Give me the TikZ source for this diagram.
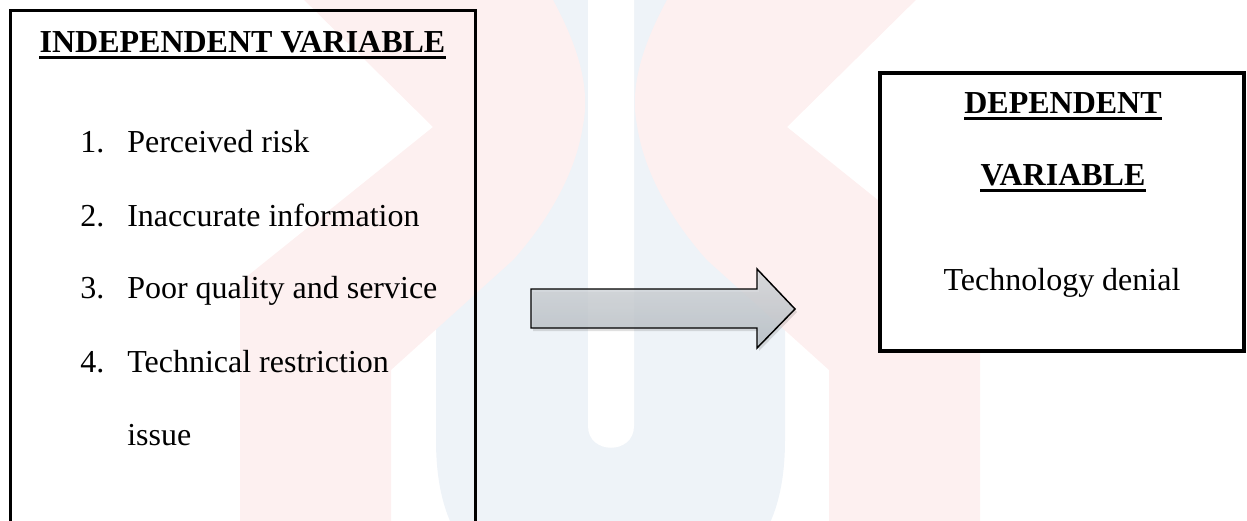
\documentclass[tikz,border=0pt]{standalone}
\usepackage{fontspec}
\setmainfont{Liberation Serif}
\definecolor{wmpink}{RGB}{253,240,240}
\definecolor{wmblue}{RGB}{238,243,248}
\definecolor{arrtop}{RGB}{214,217,220}
\definecolor{arrbot}{RGB}{182,190,197}
\begin{document}
\begin{tikzpicture}[x=0.75pt,y=-0.75pt,
  txt/.style={font=\fontsize{24}{28}\selectfont, inner sep=0pt, anchor=base west},
  ctxt/.style={font=\fontsize{24}{28}\selectfont, inner sep=0pt, anchor=base},
  hdr/.style={font=\fontsize{24}{28}\selectfont\bfseries, inner sep=0pt, anchor=base},
  uline/.style={line width=2.2pt},
  openbox/.style={draw=black, line width=2.25pt, inner sep=0pt, outer sep=0pt},
  depbox/.style={draw=black, fill=white, line width=3pt, inner sep=0pt, outer sep=0pt},
  blockarrow/.style={draw=black, line width=1.1pt, line join=miter, top color=arrtop, bottom color=arrbot, fill opacity=0.8},
  arrshadow/.style={fill=black, opacity=0.12}]
\useasboundingbox (0,0) rectangle (1247,521);
\begin{scope}
\clip (0,0) rectangle (1247,521);
% watermark
\fill[wmblue] (436,-10) -- (436,440) .. controls (436,540) and (480,600) .. (610,600)
  .. controls (740,600) and (785,540) .. (785,440) -- (785,-10) -- cycle;
\fill[wmpink] (667,-10) -- (667,0) .. controls (640,50) and (630,90) .. (637,125)
  .. controls (645,180) and (680,230) .. (707,260) -- (829,370) -- (829,530)
  -- (980,530) -- (980,282) -- (787,127) -- (926,-10) -- cycle;
\begin{scope}[shift={(1220,0)},xscale=-1]
\fill[wmpink] (667,-10) -- (667,0) .. controls (640,50) and (630,90) .. (637,125)
  .. controls (645,180) and (680,230) .. (707,260) -- (829,370) -- (829,530)
  -- (980,530) -- (980,282) -- (787,127) -- (926,-10) -- cycle;
\end{scope}
\fill[white] (588,-10) -- (588,426) .. controls (588,455) and (634,455) .. (634,426) -- (634,-10) -- cycle;
% left box (open at the bottom edge of the picture)
\node[openbox, minimum width=348.75pt, minimum height=397.5pt] (indep) at (242.5,275) {};
\end{scope}
% left box texts
\node[hdr] (ttl) at (242.5,52) {INDEPENDENT VARIABLE};
\draw[uline] ([yshift=-4pt]ttl.base west) -- ([yshift=-4pt]ttl.base east);
\node[txt] (n1) at (80,152) {1.};
\node[txt] (i1) at (127,152) {Perceived risk};
\node[txt] (n2) at (80,226) {2.};
\node[txt] (i2) at (127,226) {Inaccurate information};
\node[txt] (n3) at (80,298) {3.};
\node[txt] (i3) at (127,298) {Poor quality and service};
\node[txt] (n4) at (80,372) {4.};
\node[txt] (i4) at (127,372) {Technical restriction};
\node[txt] (i5) at (127,445) {issue};
% block arrow
\coordinate (ab) at (531,289);
\fill[arrshadow] (533,292) -- (759,292) -- (759,272) -- (797,312) -- (759,351) -- (759,331) -- (533,331) -- cycle;
\path[blockarrow] (ab) -- (757,289) -- (757,269) -- (795,309) -- (757,348) -- (757,328) -- (531,328) -- cycle;
% right box
\node[depbox, minimum width=273pt, minimum height=208.5pt] (dep) at (1062,212) {};
\node[hdr] (d1) at (1063,113) {DEPENDENT};
\draw[uline] ([yshift=-4pt]d1.base west) -- ([yshift=-4pt]d1.base east);
\node[hdr] (d2) at (1063,185) {VARIABLE};
\draw[uline] ([yshift=-4pt]d2.base west) -- ([yshift=-4pt]d2.base east);
\node[ctxt] (d3) at (1062,290) {Technology denial};
\end{tikzpicture}
\end{document}
